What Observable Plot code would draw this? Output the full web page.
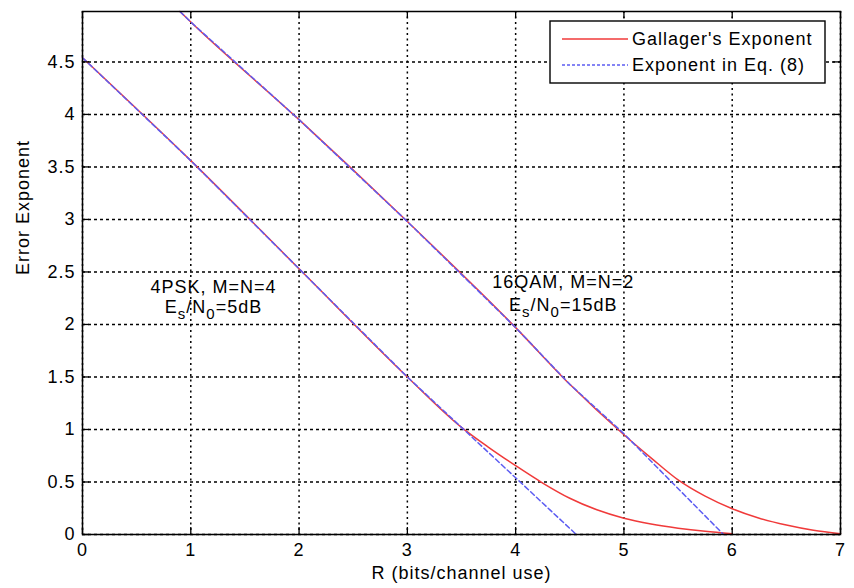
<!DOCTYPE html>
<html>
<head>
<meta charset="utf-8">
<script src="https://cdn.jsdelivr.net/npm/d3@7"></script>
<script src="https://cdn.jsdelivr.net/npm/@observablehq/plot@0.6"></script>
<style>
  body { margin: 0; background: #fff; }
  #chart { width: 854px; height: 588px; }
</style>
</head>
<body>
<div id="chart"></div>
<script>
// ---- data ----
const xTicks = [0, 1, 2, 3, 4, 5, 6, 7];
const yTicks = [0, 0.5, 1, 1.5, 2, 2.5, 3, 3.5, 4, 4.5];

const seriesNames = ["Gallager's Exponent", "Exponent in Eq. (8)"];

// 4PSK, M=N=4, Es/N0=5dB
const pskGallagerR = [0, 1, 2, 3, 3.5, 3.75, 4, 4.25, 4.5, 4.75, 5, 5.25, 5.5, 5.75, 6];
const pskGallagerE = [4.54, 3.56, 2.53, 1.5, 1.02, 0.83, 0.655, 0.49, 0.345, 0.235, 0.155, 0.1, 0.06, 0.03, 0.008];
const pskEq8R = [0, 1, 2, 3, 4, 4.56];
const pskEq8E = [4.54, 3.56, 2.53, 1.5, 0.54, 0];

// 16QAM, M=N=2, Es/N0=15dB
const qamGallagerR = [0.9, 1, 2, 3, 4, 4.5, 5, 5.25, 5.5, 5.75, 6, 6.25, 6.5, 6.75, 7];
const qamGallagerE = [4.98, 4.88, 3.95, 2.98, 1.97, 1.43, 0.95, 0.73, 0.52, 0.365, 0.245, 0.155, 0.09, 0.04, 0.008];
const qamEq8R = [0.9, 1, 2, 3, 4, 4.5, 5, 5.44, 5.92];
const qamEq8E = [4.98, 4.88, 3.95, 2.98, 1.97, 1.43, 0.96, 0.5, 0];

// annotations
const annotLine1 = ["4PSK, M=N=4", "16QAM, M=N=2"];
const annotLine2 = ["E_s/N_0=5dB", "E_s/N_0=15dB"];
const annotX = [1.21, 4.44];
const annotY1 = [2.35, 2.40];
const annotY2 = [2.16, 2.18];

const xLabel = "R (bits/channel use)";
const yLabel = "Error Exponent";

// ---- build tables ----
const rows = (curve, R, E) => R.map((r, i) => ({curve, R: r, E: E[i]}));
const gallager = [...rows("4PSK", pskGallagerR, pskGallagerE), ...rows("16QAM", qamGallagerR, qamGallagerE)];
const eq8 = [...rows("4PSK", pskEq8R, pskEq8E), ...rows("16QAM", qamEq8R, qamEq8E)];
const annots1 = annotLine1.map((t, i) => ({t, x: annotX[i], y: annotY1[i]}));
const annots2 = annotLine2.map((t, i) => ({t, x: annotX[i], y: annotY2[i]}));

const RED = "#f03a3a";
const BLUE = "#5c5cf2";
const FONT = "'Liberation Sans', Arial, Helvetica, sans-serif";

const W = 854, H = 588;
const mL = 82, mR = 14, mT = 11, mB = 54;
const frameW = W - mL - mR, frameH = H - mT - mB;
const tickLen = 7;

const plot = Plot.plot({
  width: W,
  height: H,
  marginLeft: mL,
  marginRight: mR,
  marginTop: mT,
  marginBottom: mB,
  x: {domain: [0, 7]},
  y: {domain: [0, 4.98]},
  style: {fontFamily: FONT, fontSize: "18px", letterSpacing: "1px", background: "#fff", color: "#000"},
  marks: [
    Plot.gridX(xTicks, {stroke: "#000", strokeOpacity: 1, strokeWidth: 1.5, strokeDasharray: "2,3.5"}),
    Plot.gridY(yTicks, {stroke: "#000", strokeOpacity: 1, strokeWidth: 1.5, strokeDasharray: "3,3"}),
    Plot.line(gallager, {x: "R", y: "E", z: "curve", stroke: RED, strokeWidth: 1.5, curve: "monotone-x"}),
    Plot.line(eq8, {x: "R", y: "E", z: "curve", stroke: BLUE, strokeWidth: 1.5, strokeDasharray: "5,3"}),
    Plot.tickX(xTicks, {x: d => d, insetTop: frameH - tickLen, stroke: "#000", strokeWidth: 1.3}),
    Plot.tickX(xTicks, {x: d => d, insetBottom: frameH - tickLen, stroke: "#000", strokeWidth: 1.3}),
    Plot.tickY(yTicks, {y: d => d, insetRight: frameW - tickLen, stroke: "#000", strokeWidth: 1.3}),
    Plot.tickY(yTicks, {y: d => d, insetLeft: frameW - tickLen, stroke: "#000", strokeWidth: 1.3}),
    Plot.frame({stroke: "#000", strokeWidth: 1.5}),
    Plot.axisX(xTicks, {anchor: "bottom", tickSize: 0, tickPadding: 9, fontSize: 18, label: null, tickFormat: d => String(d)}),
    Plot.axisY(yTicks, {anchor: "left", tickSize: 0, tickPadding: 7, fontSize: 18, label: null, tickFormat: d => String(d)}),
    Plot.text([xLabel], {frameAnchor: "bottom", dy: 44, text: d => d, fontSize: 18, fill: "#000"}),
    Plot.text([yLabel], {frameAnchor: "left", dx: -59, dy: 2, rotate: -90, text: d => d, fontSize: 18, fill: "#000"}),
    Plot.text(annots1, {x: "x", y: "y", text: "t", fontSize: 18, fill: "#000"}),
    Plot.text(annots2, {x: "x", y: "y", text: "t", fontSize: 18, fill: "#000"})
  ]
});

// subscripts in annotation texts (E_s, N_0)
d3.select(plot).selectAll("text").each(function () {
  const el = this;
  const t = el.textContent;
  if (!t.includes("_")) return;
  const parts = t.split(/_(.)/);
  while (el.firstChild) el.removeChild(el.firstChild);
  parts.forEach((p, i) => {
    if (!p) return;
    const ts = document.createElementNS("http://www.w3.org/2000/svg", "tspan");
    ts.textContent = p;
    if (i % 2 === 1) {
      ts.setAttribute("dy", "6");
      ts.setAttribute("font-size", "15");
    } else if (i > 0) {
      ts.setAttribute("dy", "-6");
    }
    el.appendChild(ts);
  });
});

// legend inside the plot, upper right
const svg = d3.select(plot);
const lg = svg.append("g").attr("font-family", FONT).attr("font-size", 18).attr("text-anchor", "start");
const bx = W - mR - 15 - 275, by = mT + 10, bw = 275, bh = 62;
lg.append("rect").attr("x", bx).attr("y", by).attr("width", bw).attr("height", bh)
  .attr("fill", "#fff").attr("stroke", "#000").attr("stroke-width", 1.4);
[[RED, null], [BLUE, "3,2"]].forEach(([c, dash], i) => {
  const yy = by + 18 + i * 26;
  const ln = lg.append("line").attr("x1", bx + 12).attr("x2", bx + 78).attr("y1", yy).attr("y2", yy)
    .attr("stroke", c).attr("stroke-width", 1.5);
  if (dash) ln.attr("stroke-dasharray", dash);
  lg.append("text").attr("x", bx + 82).attr("y", yy).attr("dy", "0.35em").attr("fill", "#000")
    .attr("text-anchor", "start").text(seriesNames[i]);
});

document.getElementById("chart").appendChild(plot);
</script>
</body>
</html>
